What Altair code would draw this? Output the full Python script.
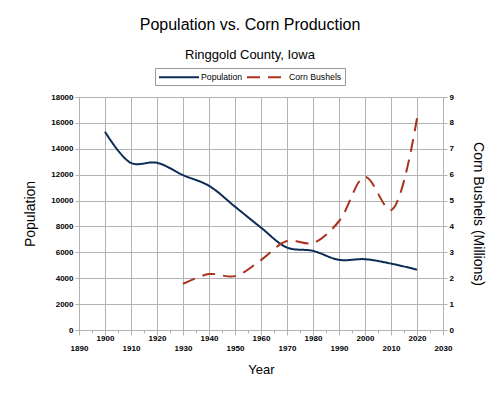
import altair as alt
import pandas as pd

years = [1900, 1910, 1920, 1930, 1940, 1950, 1960, 1970, 1980, 1990, 2000, 2010, 2020]
population = [15325, 12904, 12919, 11966, 11137, 9528, 7910, 6373, 6112, 5420, 5469, 5131, 4663]
corn_years = [1930, 1940, 1950, 1960, 1970, 1980, 1990, 2000, 2010, 2020]
corn_millions = [1.78, 2.16, 2.08, 2.7, 3.44, 3.36, 4.2, 5.91, 4.63, 8.18]

pop_df = pd.DataFrame({"Year": years, "Population": population})
corn_df = pd.DataFrame({"Year": corn_years, "Corn": corn_millions})

FONT = "Liberation Sans"
GRID = "#b3b3b3"
x_vals = list(range(1890, 2031, 5))

series = ["Population", "Corn Bushels"]
colors = ["#0b2d55", "#a8321a"]
dashes = [[1, 0], [13, 8]]

x_axis = alt.Axis(
    values=x_vals,
    labelExpr="datum.value % 10 != 0 ? '' : ((datum.value / 10) % 2 == 1 ? ['', datum.label] : datum.label)",
    format="d",
    title="Year",
    titleFontSize=13,
    titleFontWeight="normal",
    titlePadding=11,
    labelFontSize=8,
    labelFontWeight="bold",
    labelColor="#000",
    labelLineHeight=10,
    labelPadding=-1,
    labelOverlap=False,
    labelFlush=False,
    gridColor=GRID,
    gridOpacity=alt.condition("datum.value % 10 == 0", alt.value(1), alt.value(0)),
    tickColor=GRID,
    tickSize=alt.condition("datum.value % 10 == 0", alt.value(5), alt.value(3)),
    domainColor=GRID,
)

x_enc = alt.X("Year:Q", scale=alt.Scale(domain=[1890, 2030], nice=False, zero=False), axis=x_axis)

color_scale = alt.Scale(domain=series, range=colors)
dash_scale = alt.Scale(domain=series, range=dashes)
legend = alt.Legend(
    title=None, orient="none", legendX=76, legendY=-29, direction="horizontal",
    symbolType="M-4,0H4", symbolSize=100, symbolStrokeWidth=2,
    symbolOffset=15, labelOffset=16,
    labelFontSize=8.7, labelFont=FONT, labelColor="#000",
    strokeColor="#999", padding=3, columnPadding=0,
)

pop = alt.Chart(pop_df).mark_line(interpolate="catmull-rom", strokeWidth=2).encode(
    x=x_enc,
    y=alt.Y("Population:Q", scale=alt.Scale(domain=[0, 18000], nice=False),
            axis=alt.Axis(values=list(range(0, 18001, 2000)), format="d", title="Population",
                          titleFontSize=14, titleFontWeight="normal", titlePadding=13,
                          labelFontSize=8, labelFontWeight="bold", labelColor="#000",
                          gridColor=GRID, tickColor=GRID, domainColor=GRID, tickSize=4)),
    color=alt.Color("s:N", scale=color_scale, legend=legend),
    strokeDash=alt.StrokeDash("s:N", scale=dash_scale, legend=legend),
).transform_calculate(s="'Population'")

corn = alt.Chart(corn_df).mark_line(interpolate="catmull-rom", strokeWidth=2).encode(
    x=x_enc,
    y=alt.Y("Corn:Q", scale=alt.Scale(domain=[0, 9], nice=False),
            axis=alt.Axis(values=list(range(0, 10)), orient="right", title="Corn Bushels (Millions)",
                          titleFontSize=14, titleFontWeight="normal", titlePadding=17,
                          labelFontSize=8, labelFontWeight="bold", labelColor="#000",
                          grid=False, tickColor=GRID, domainColor=GRID, tickSize=4)),
    color=alt.Color("s:N", scale=color_scale, legend=legend),
    strokeDash=alt.StrokeDash("s:N", scale=dash_scale, legend=legend),
).transform_calculate(s="'Corn Bushels'")

chart = alt.layer(pop, corn).resolve_scale(y="independent").properties(
    width=364, height=233,
    title=alt.Title("Population vs. Corn Production", subtitle="Ringgold County, Iowa",
                    fontSize=16, fontWeight="normal", subtitleFontSize=13,
                    font=FONT, subtitleFont=FONT, color="#000", subtitleColor="#000",
                    subtitlePadding=16, offset=6, anchor="middle", dx=-11),
    padding={"left": 71, "top": 89, "right": 49, "bottom": 56},
    autosize=alt.AutoSizeParams(type="none"),
).configure_view(stroke=None).configure_axis(
    labelFont=FONT, titleFont=FONT, titleColor="#000"
).configure(background="white")

chart.save("out.html", embed_options={"renderer": "svg", "actions": False})
